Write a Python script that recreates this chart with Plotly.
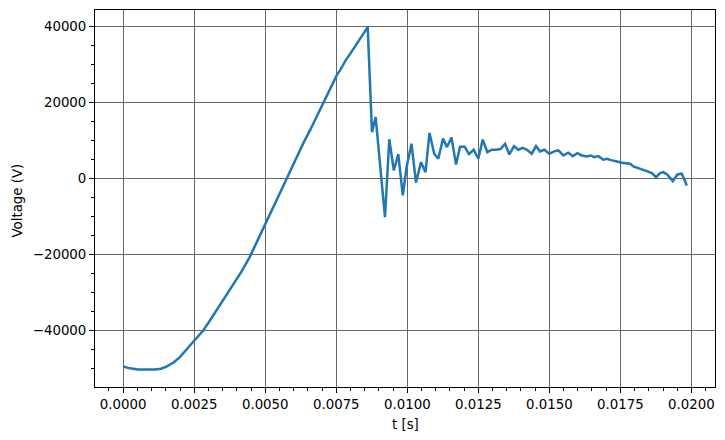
import plotly.graph_objects as go

t_s = [0.0, 0.00024, 0.00052, 0.000834, 0.001116, 0.001327, 0.001539, 0.001785, 0.001996,
       0.002243, 0.0025, 0.002817, 0.003053, 0.003289, 0.003581, 0.003873, 0.004169, 0.004461,
       0.004743, 0.0050, 0.005282, 0.005518, 0.005753, 0.005958, 0.006162, 0.006363, 0.006574,
       0.00681, 0.007042, 0.007278, 0.007514, 0.00763, 0.007736, 0.007841, 0.008018, 0.008218,
       0.008405, 0.008606,
       0.008757, 0.008887, 0.009056, 0.009215, 0.009366, 0.009525, 0.009683, 0.009841, 0.009979,
       0.010148, 0.010306, 0.010482, 0.010641, 0.010782, 0.010947, 0.011091, 0.011257, 0.011398,
       0.011556, 0.011715, 0.011856, 0.012021, 0.012172, 0.012338, 0.0125, 0.012655, 0.012817,
       0.012972, 0.013123, 0.013282, 0.01344, 0.013591, 0.013757, 0.013908, 0.014063, 0.014215,
       0.01438, 0.014532, 0.014672, 0.014824, 0.015, 0.015166, 0.015317, 0.015493, 0.015669,
       0.015824, 0.015986, 0.016141, 0.016317, 0.016458, 0.016574, 0.016725, 0.016901, 0.017021,
       0.017173, 0.017313, 0.017454, 0.01755, 0.017725, 0.017842, 0.017958, 0.018078, 0.018194,
       0.01831, 0.01843, 0.018606, 0.018757, 0.018898, 0.019014, 0.019155, 0.019345, 0.019507,
       0.019662, 0.019838]

voltage = [-49400, -49900, -50200, -50300, -50200, -50000, -49400, -48300, -46950,
           -44800, -42600, -39930, -37300, -34600, -31400, -28100, -24400, -20500,
           -16100, -12100, -7600, -3800, 0, 3300, 6580, 9700, 12710,
           16400, 20050, 23700, 27190, 28500, 30000, 31300, 33200, 35530,
           37600, 39900,
           12270, 16210, 2500, -10100, 10400, 2180, 6500, -4390, 3200,
           9210, -1000, 4370, 1740, 12050, 6580, 5260, 10550, 8330,
           10870, 3760, 8400, 8400, 6500, 7630, 5260, 10300, 7000,
           7630, 7630, 7800, 9200, 6400, 8550, 7630, 8100, 7600,
           6580, 8580, 7190, 7630, 6580, 7200, 7450, 6130, 6840,
           5950, 6740, 6130, 5870, 6130, 5690, 5950, 5000, 5260,
           4900, 4550, 4400, 4210, 4110, 3950, 3240, 2950, 2630,
           2300, 2000, 1470, 420, 1470, 1740, 1050, -630, 1130,
           1320, -1760]

x_ticks = [0.0, 0.0025, 0.005, 0.0075, 0.01, 0.0125, 0.015, 0.0175, 0.02]
y_ticks = [-40000, -20000, 0, 20000, 40000]

fig = go.Figure()
fig.add_trace(go.Scatter(x=t_s, y=voltage, mode="lines",
                         line=dict(color="#1f77b4", width=2.5), showlegend=False))

font = dict(family="DejaVu Sans", size=13.33, color="black")
axis_common = dict(showline=True, linecolor="black", linewidth=1, mirror=True,
                   ticks="outside", ticklen=5, tickwidth=1, tickcolor="black",
                   showgrid=True, gridcolor="#666666", gridwidth=1,
                   zeroline=False, tickfont=font, automargin=False)

fig.update_xaxes(range=[-0.000992, 0.02083], tickvals=x_ticks, tickformat=".4f",
                 minor=dict(dtick=0.0005, tick0=0, ticks="outside", ticklen=3,
                            tickcolor="black", showgrid=False),
                 **axis_common)
fig.update_yaxes(range=[-54810, 44410], tickvals=y_ticks, tickformat="d",
                 minor=dict(dtick=5000, tick0=0, ticks="outside", ticklen=3,
                            tickcolor="black", showgrid=False),
                 **axis_common)

fig.add_annotation(text="t [s]", xref="paper", yref="paper", x=0.5, y=0,
                   yshift=-37, xanchor="center", yanchor="middle",
                   showarrow=False, font=font)
fig.add_annotation(text="Voltage (V)", xref="paper", yref="paper", x=0, y=0.5,
                   yshift=-2, xshift=-78, xanchor="center", yanchor="middle",
                   textangle=-90, showarrow=False, font=font)

fig.update_layout(width=717, height=432,
                  margin=dict(l=87, r=10, t=2, b=53),
                  plot_bgcolor="white", paper_bgcolor="white",
                  font=font)

fig.write_html("out.html")
